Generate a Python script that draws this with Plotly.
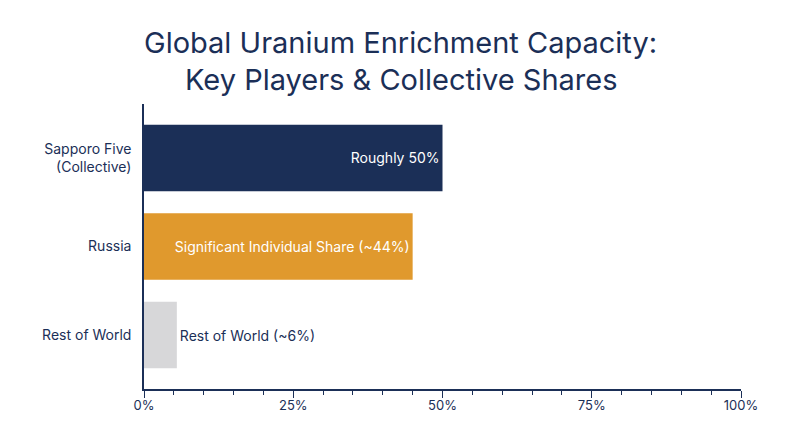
import plotly.graph_objects as go

# data
categories = ["Sapporo Five<br>(Collective)", "Russia", "Rest of World"]
shares = [50, 45, 5.5]
bar_labels = ["Roughly 50%", "Significant Individual Share (~44%)", "Rest of World (~6%)"]
bar_colors = ["#1b2f57", "#e0992d", "#d7d7d9"]
label_colors = ["white", "white", "#1b2f57"]
label_positions = ["inside", "inside", "outside"]
tick_vals = [0, 25, 50, 75, 100]
tick_text = ["0%", "25%", "50%", "75%", "100%"]
title_lines = ["Global Uranium Enrichment Capacity:", "Key Players & Collective Shares"]

NAVY = "#1b2f57"
FONT = "Inter"

fig = go.Figure()

fig.add_trace(go.Bar(
    y=categories, x=shares,
    orientation="h",
    marker=dict(color=bar_colors, line=dict(width=0)),
    text=bar_labels,
    textposition=label_positions,
    insidetextanchor="end",
    textfont=dict(color=label_colors, size=14, family=FONT),
    outsidetextfont=dict(color=NAVY, size=14, family=FONT),
    cliponaxis=False,
    width=0.75,
    hoverinfo="skip",
))

# two-line title as annotations, centred on the page rather than the plot
for line, ypos in zip(title_lines, [1.2175, 1.0877]):
    fig.add_annotation(
        text=line, xref="paper", yref="paper",
        x=0.43, y=ypos, xanchor="center", yanchor="middle",
        showarrow=False,
        font=dict(family=FONT, size=29, color=NAVY),
    )

# page is shot with an ~8px body offset, so margins are trimmed on top/left
fig.update_layout(
    width=800, height=447,
    paper_bgcolor="white", plot_bgcolor="white",
    margin=dict(l=136, r=67, t=96, b=66),
    font=dict(family=FONT, color=NAVY, size=13),
    showlegend=False,
)

fig.update_xaxes(
    range=[0, 100],
    tickvals=tick_vals, ticktext=tick_text,
    ticks="outside", ticklen=7, tickcolor=NAVY, tickwidth=1,
    minor=dict(dtick=5, ticks="outside", ticklen=4, tickcolor=NAVY, tickwidth=1),
    showline=True, linecolor=NAVY, linewidth=1.5,
    showgrid=False, zeroline=False,
    ticklabelstandoff=-3,
    tickfont=dict(family=FONT, size=13, color=NAVY),
)

fig.update_yaxes(
    autorange=False, range=[2.61, -0.61],
    showline=True, linecolor=NAVY, linewidth=1.5,
    showgrid=False, zeroline=False,
    ticks="", ticklabelstandoff=8,
    tickfont=dict(family=FONT, size=14, color=NAVY),
)

fig.write_html("out.html")
